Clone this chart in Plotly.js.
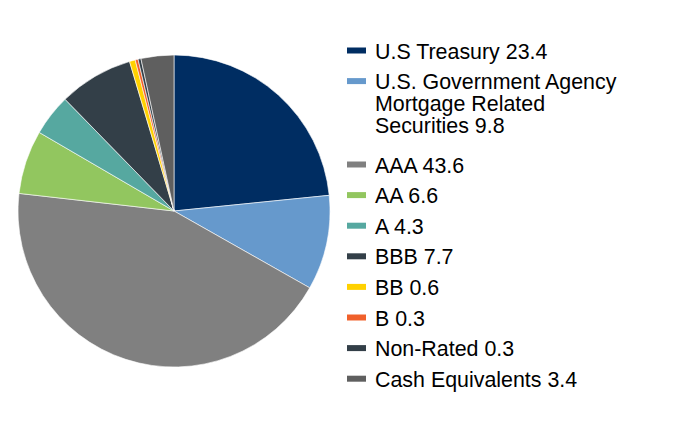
<!DOCTYPE html>
<html>
<head>
<meta charset="utf-8">
<script src="https://cdn.plot.ly/plotly-3.0.1.min.js"></script>
<style>html,body{margin:0;padding:0;background:#fff}#chart{width:684px;height:432px}</style>
</head>
<body>
<div id="chart"></div>
<script>
const labels = ["U.S Treasury", "U.S. Government Agency<br>Mortgage Related<br>Securities", "AAA", "AA", "A", "BBB", "BB", "B", "Non-Rated", "Cash Equivalents"];
const values = [23.4, 9.8, 43.6, 6.6, 4.3, 7.7, 0.6, 0.3, 0.3, 3.4];
const colors = ["#002D62", "#6699CC", "#808080", "#92C65F", "#56A8A0", "#333F48", "#FFD100", "#F0602B", "#333F48", "#5F5F5F"];

const W = 684, H = 432;
const px = x => x / W;
const py = y => 1 - y / H;

const trace = {
  type: "pie",
  labels: labels.map(l => l.replace(/<br>/g, " ")),
  values: values,
  sort: false,
  direction: "clockwise",
  rotation: 0,
  textinfo: "none",
  hoverinfo: "label+value",
  marker: { colors: colors, line: { color: "#ffffff", width: 0.6 } },
  domain: { x: [px(18), px(330)], y: [py(367), py(55)] },
  showlegend: false
};

const shapes = [], annotations = [];
let y = 50.5;
labels.forEach((lab, i) => {
  const lines = (lab + " " + values[i].toFixed(1)).split("<br>");
  shapes.push({ type: "rect", xref: "paper", yref: "paper",
    x0: px(347), x1: px(366), y0: py(y + 3), y1: py(y - 3),
    fillcolor: colors[i], line: { width: 0 } });
  lines.forEach((ln, j) => {
    annotations.push({ xref: "paper", yref: "paper", x: px(372.5), y: py(y + 1 + j * 22),
      xanchor: "left", yanchor: "middle", align: "left", showarrow: false,
      text: ln,
      font: { family: "Liberation Sans, Arial, sans-serif", size: 21.4, color: "#000000" } });
  });
  y += 30.6 + (lines.length - 1) * 26.4;
});

const layout = {
  width: W, height: H,
  margin: { l: 0, r: 0, t: 0, b: 0 },
  paper_bgcolor: "#ffffff",
  showlegend: false,
  shapes: shapes,
  annotations: annotations
};

Plotly.newPlot("chart", [trace], layout, { displayModeBar: false, staticPlot: true });
</script>
</body>
</html>
